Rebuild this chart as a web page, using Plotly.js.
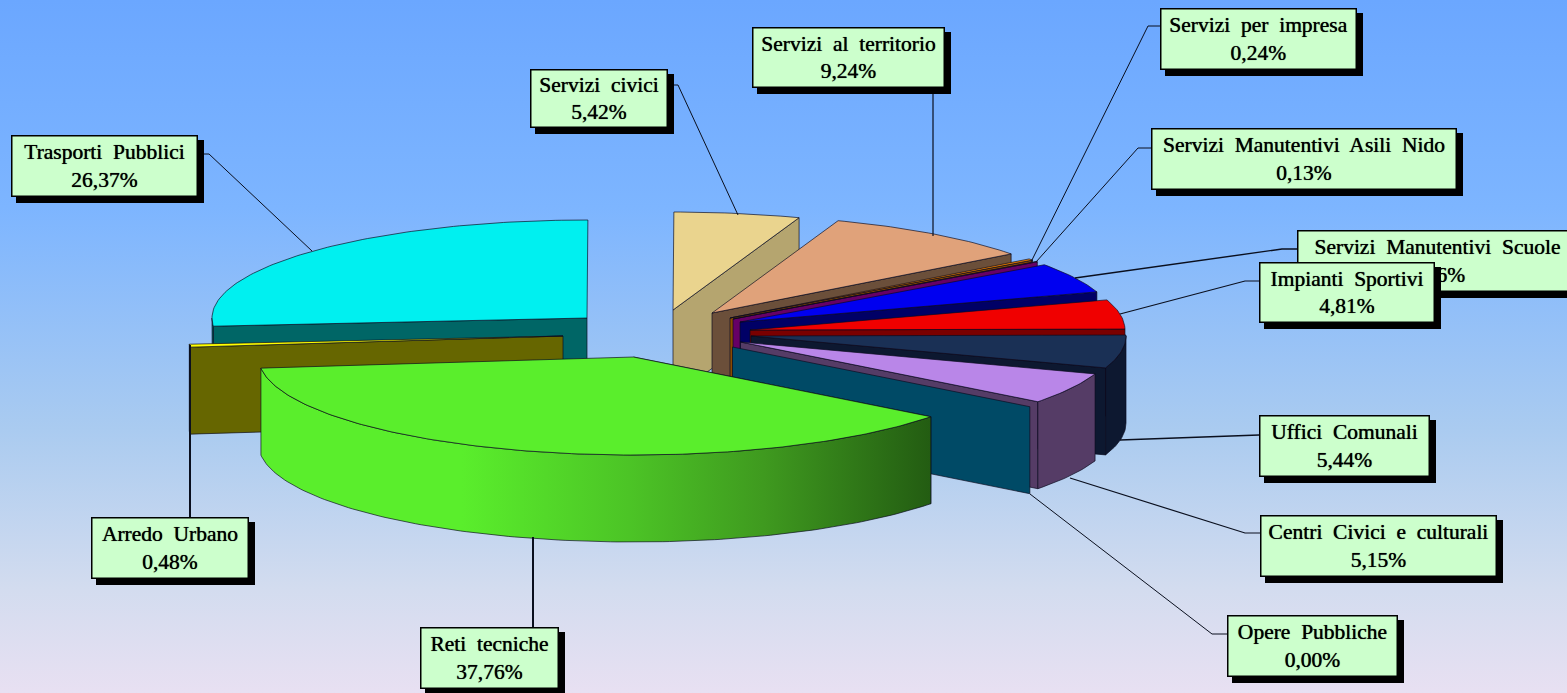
<!DOCTYPE html>
<html><head><meta charset="utf-8">
<script src="https://cdn.plot.ly/plotly-3.0.1.min.js"></script>
<style>html,body{margin:0;padding:0;width:1567px;height:693px;overflow:hidden;
background:linear-gradient(180deg,#6ba7ff 0%,#7db5ff 30%,#aacbf0 62%,#d3dcef 85%,#e8e0f2 100%);}
#c{width:1567px;height:693px}</style></head><body><div id="c"></div>
<script>
// Data, clockwise from the first slice
const categories=["Impianti Sportivi","Uffici Comunali","Centri Civici e culturali","Opere Pubbliche","Reti tecniche","Arredo Urbano","Trasporti Pubblici","Servizi civici","Servizi al territorio","Servizi per impresa","Servizi Manutentivi Asili Nido","Servizi Manutentivi Scuole"];
const shares=[4.81,5.44,5.15,0.00,37.76,0.48,26.37,5.42,9.24,0.24,0.13,4.96];
const shareLabels=["4,81%","5,44%","5,15%","0,00%","37,76%","0,48%","26,37%","5,42%","9,24%","0,24%","0,13%","4,96%"];

// Styles and exploded-pie geometry
const topColors=["#f00000","#1a3055","#b986e8","#004a66","#5aee2c","#ffff00","#00f0f0","#ead48e","#e0a27a","#f08000","#800080","#0000f0"];
const wallColors=["#7a0000","#0d1830","#553c66","#004a66","#2a6010","#666600","#006666","#b5a56f","#6b4f3a","#8a4a00","#660066","#000066"];
const centerX=[750,751,740.5,732.5,633.5,563,587,673,712,730,733,740];
const centerY=[330,336,342,347,357,336,318,310,313,318,319,322];
const drawOrder=[6,5,7,8,9,10,11,0,1,2,3,4];
const RX=375,RY=98,DEPTH=87,START=-17.9;
// box: x0,y0,x1,y1 ; leader polyline
const boxes=[[1259,262,1435,323],[1259,415,1430,477],[1260,515,1497,577],[1227,615,1398,677],[420,627,559,689],[91,517,249,579],[11,135,198,197],[530,69,668,128],[752,27,945,88],[1160,8,1357,70],[1151,128,1457,190],[1297,230,1578,292]];
const leaders=[[[1259,281],[1245,281],[1120,314]],[[1259,435],[1120,440]],[[1260,533],[1245,533],[1070,478]],[[1227,634],[1212,634],[1030,494]],[[533,627],[533,537]],[[190,517],[190,345]],[[198,154],[209,154],[312,251]],[[668,85],[678,85],[738,215]],[[933,88],[933,236]],[[1160,26],[1148,26],[1031,262]],[[1151,148],[1138,148],[1036,262]],[[1297,249],[1282,249],[1075,278]]];
const leaderWidths=[1.2,1.4,1.2,1,2,2,1,1,1.2,1,1,1.4];
const labelOrder=[3,4,5,6,7,8,9,10,11,0,1,2];

const rad=d=>d*Math.PI/180;
const px=(i,t)=>centerX[i]+RX*Math.cos(rad(t));
const py=(i,t)=>centerY[i]+RY*Math.sin(rad(t));
let a=START; const t0=[],t1=[];
shares.forEach(s=>{t0.push(a);a+=s*3.6;t1.push(a);});

const edge={color:'rgba(10,10,30,0.75)',width:0.9};
const poly=(xs,ys,fill,extra)=>Object.assign({type:'scatter',mode:'lines',x:xs,y:ys,fill:'toself',fillcolor:fill,line:edge,hoverinfo:'skip',showlegend:false},extra||{});
const traces=[];
function arc(i,a0,a1){const xs=[],ys=[];const n=Math.max(2,Math.ceil(Math.abs(a1-a0)));for(let k=0;k<=n;k++){const t=a0+(a1-a0)*k/n;xs.push(px(i,t));ys.push(py(i,t));}return [xs,ys];}
drawOrder.forEach(i=>{
  const wt=Math.cos(rad((t0[i]+t1[i])/2))>0?t1[i]:t0[i];
  // radial cut wall
  traces.push(poly([centerX[i],px(i,wt),px(i,wt),centerX[i],centerX[i]],[centerY[i],py(i,wt),py(i,wt)+DEPTH,centerY[i]+DEPTH,centerY[i]],wallColors[i]));
  // outer rim wall (front half only)
  const lo=Math.max(t0[i],0),hi=Math.min(t1[i],180);
  if(hi>lo){
    const [ax,ay]=arc(i,lo,hi);
    const xs=ax.concat(ax.slice().reverse()),ys=ay.concat(ay.slice().reverse().map(v=>v+DEPTH));
    xs.push(xs[0]);ys.push(ys[0]);
    const extra=i===4?{fillgradient:{type:'horizontal',colorscale:[[0,'#5aee2c'],[0.3,'#5aee2c'],[0.55,'#4cc426'],[0.75,'#3f9a1f'],[1,'#235c12']]}}:{};
    traces.push(poly(xs,ys,wallColors[i],extra));
  }
  // top face
  if(shares[i]>0){
    const [ax,ay]=arc(i,t0[i],t1[i]);
    traces.push(poly([centerX[i]].concat(ax,[centerX[i]]),[centerY[i]].concat(ay,[centerY[i]]),topColors[i]));
  }
});

const shapes=leaders.map((l,i)=>({type:'path',layer:'above',path:'M'+l.map(p=>p.join(',')).join('L'),line:{color:'#0a0f1e',width:leaderWidths[i]}}));
const SH=5,BW=1.5;
const annotations=[];
labelOrder.forEach(i=>{
  const b=boxes[i],w=b[2]-b[0],h=b[3]-b[1];
  const base={xref:'x',yref:'y',xanchor:'left',yanchor:'top',showarrow:false,borderpad:0};
  annotations.push(Object.assign({},base,{x:b[0]+SH,y:b[1]+SH,text:'&nbsp;',width:w+1,height:h+1,bgcolor:'#000',borderwidth:0,font:{size:10,color:'#000'}}));
  annotations.push(Object.assign({},base,{x:b[0],y:b[1],text:categories[i].replace(/ /g,'\u00a0 ')+'<br>'+shareLabels[i],width:w-2*BW,height:h-2*BW,align:'center',valign:'middle',bgcolor:'#ccffcc',bordercolor:'#000',borderwidth:BW,font:{family:'"Liberation Serif",serif',size:21.5,color:'#000',shadow:'0 0 0.7px #000'}}));
});

Plotly.newPlot('c',traces,{width:1567,height:693,margin:{l:0,r:0,t:0,b:0},paper_bgcolor:'rgba(0,0,0,0)',plot_bgcolor:'rgba(0,0,0,0)',showlegend:false,
 xaxis:{range:[0,1567],visible:false,fixedrange:true},yaxis:{range:[693,0],visible:false,fixedrange:true},shapes,annotations},{displayModeBar:false,staticPlot:true});
</script></body></html>
